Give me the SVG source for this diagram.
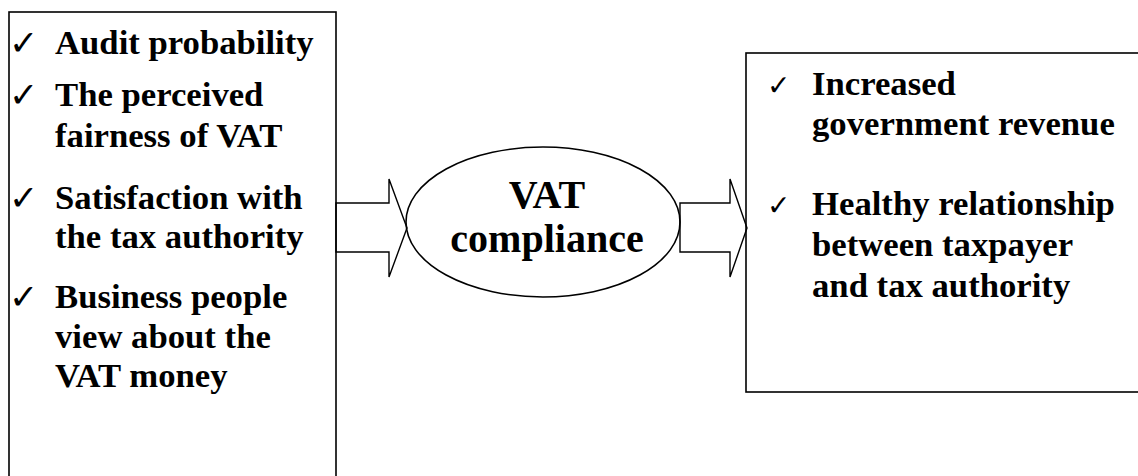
<svg xmlns="http://www.w3.org/2000/svg" width="1138" height="476" viewBox="0 0 1138 476">
  <style>
    .box { fill: none; stroke: #000; stroke-width: 1.6; }
    .arrow { fill: none; stroke: #000; stroke-width: 1.4; stroke-linejoin: miter; }
    .item { font-family: "Liberation Serif", "Times New Roman", serif; font-weight: bold; font-size: 34.7px; fill: #000; }
    .tick { font-family: "DejaVu Sans", sans-serif; font-size: 35px; fill: #000; }
    .tick-sm { font-family: "DejaVu Sans", sans-serif; font-size: 28px; fill: #000; }
    .center { font-family: "Liberation Serif", "Times New Roman", serif; font-weight: bold; font-size: 40px; fill: #000; text-anchor: middle; }
  </style>
  <rect width="1138" height="476" fill="#fff"/>

  <!-- determinants -->
  <g id="determinants">
    <rect class="box" x="9" y="12" width="327" height="480"/>
    <text class="tick" x="9" y="55">✓</text>
    <text class="item" x="55" y="54">Audit probability</text>
    <text class="tick" x="9" y="107">✓</text>
    <text class="item" x="55" y="106">The perceived</text>
    <text class="item" x="55" y="147">fairness of VAT</text>
    <text class="tick" x="9" y="210">✓</text>
    <text class="item" x="55" y="209">Satisfaction with</text>
    <text class="item" x="55" y="248">the tax authority</text>
    <text class="tick" x="9" y="309">✓</text>
    <text class="item" x="55" y="308">Business people</text>
    <text class="item" x="55" y="348">view about the</text>
    <text class="item" x="55" y="387">VAT money</text>
  </g>

  <!-- central node -->
  <g id="compliance">
    <ellipse class="box" cx="543" cy="222" rx="137" ry="75"/>
    <text class="center" x="547" y="208">VAT</text>
    <text class="center" x="547" y="252">compliance</text>
  </g>

  <!-- outcomes -->
  <g id="outcomes">
    <rect class="box" x="746" y="53" width="400" height="339"/>
    <text class="tick-sm" x="767" y="95">✓</text>
    <text class="item" x="812" y="95">Increased</text>
    <text class="item" x="812" y="135">government revenue</text>
    <text class="tick-sm" x="767" y="215">✓</text>
    <text class="item" x="812" y="215">Healthy relationship</text>
    <text class="item" x="812" y="256">between taxpayer</text>
    <text class="item" x="812" y="297">and tax authority</text>
  </g>

  <!-- block arrows -->
  <g id="connectors">
    <polygon class="arrow" points="336,203 389,203 389,179 407,228 389,277 389,252 336,252"/>
    <polygon class="arrow" points="680,203 730,203 730,179 747,228 730,277 730,252 680,252"/>
  </g>
</svg>
